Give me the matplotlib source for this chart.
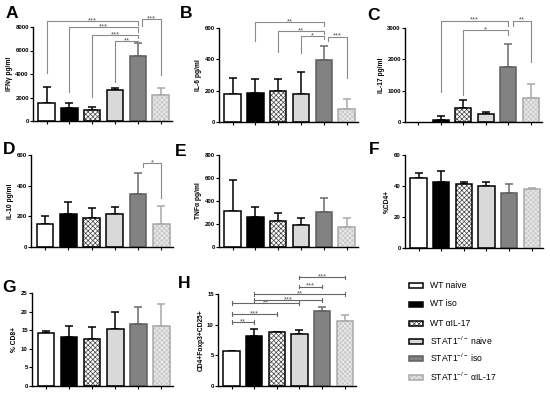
import matplotlib
matplotlib.use("Agg")
import matplotlib.pyplot as plt
from matplotlib.patches import Rectangle

plt.rcParams["font.family"] = ["Liberation Sans", "DejaVu Sans"]
plt.rcParams["mathtext.fontset"] = "custom"
plt.rcParams["mathtext.rm"] = "Liberation Sans"
plt.rcParams["mathtext.it"] = "Liberation Sans:italic"
plt.rcParams["hatch.linewidth"] = 0.5

groups = ["WT naive", "WT iso", "WT αIL-17",
          r"STAT1$^{\mathrm{-/-}}$ naive", r"STAT1$^{\mathrm{-/-}}$ iso",
          r"STAT1$^{\mathrm{-/-}}$ αIL-17"]

ifng_mean = [1500, 1100, 900, 2650, 5550, 2250]
ifng_err = [1400, 400, 250, 200, 1050, 600]
il6_mean = [176, 183, 195, 180, 397, 83]
il6_err = [107, 89, 77, 140, 86, 67]
il17_mean = [0, 70, 450, 250, 1760, 780]
il17_err = [0, 120, 260, 70, 720, 420]
il10_mean = [150, 215, 187, 212, 348, 152]
il10_err = [55, 80, 66, 48, 135, 118]
tnfa_mean = [312, 260, 225, 195, 302, 178]
tnfa_err = [271, 90, 70, 55, 123, 77]
cd4_mean = [45, 42.5, 41.5, 39.7, 35.8, 37.8]
cd4_err = [3.5, 7.3, 1.0, 2.8, 5.2, 0.7]
cd8_mean = [14.3, 13.1, 12.7, 15.4, 16.6, 16.0]
cd8_err = [0.6, 2.9, 3.2, 4.6, 4.6, 6.1]
treg_mean = [5.7, 8.1, 8.75, 8.5, 12.2, 10.6]
treg_err = [0.05, 1.2, 0.1, 0.7, 0.65, 1.0]

# (left bar, right bar, level, left leg bottom, right leg bottom, label)
ifng_sig = [(0, 4, 8540, 4100, 8200, "***"), (1, 4, 7980, 2500, 7600, "***"),
            (2, 4, 7320, 2060, 7050, "***"), (3, 4, 6830, 3300, 6650, "**"),
            (4.2, 5, 8680, 8100, 3900, "***")]
il6_sig = [(1, 4, 636, 514, 610, "**"), (2, 4, 583, 450, 560, "**"),
           (3, 4, 549, 440, 530, "*"), (4.2, 5, 545, 520, 279, "***")]
il17_sig = [(1, 4, 3236, 964, 3050, "***"), (2, 4, 2925, 860, 2780, "*"),
            (4.2, 5, 3236, 3050, 1930, "**")]
il10_sig = [(4.2, 5, 546, 520, 318, "*")]
# H uses capped lines: (left bar, right bar, level, label)
treg_sig = [(0, 1, 10.4, "**"), (0, 2, 11.7, "***"), (0, 3, 13.5, "**"),
            (1, 4, 14.0, "***"), (1, 5, 15.0, "**"), (3, 4, 16.2, "***"),
            (3, 5, 17.7, "***")]

# face, edge, hatch, hatch colour, error colour
styles = [
    ("white", "black", None, None, "black"),
    ("black", "black", None, None, "black"),
    ("white", "black", "xxxxxxx", "#444444", "black"),
    ("#d9d9d9", "black", None, None, "black"),
    ("#828282", "#5e5e5e", None, None, "#6a6a6a"),
    ("#cbcbcb", "#a8a8a8", "xxxxxxx", "#eeeeee", "#a8a8a8"),
]

W, H = 550, 393


def rect(left, right, top, bottom):
    return [left / W, (H - bottom) / H, (right - left) / W, (bottom - top) / H]


def draw_bars(ax, mean, err, ylim, yticks, ylabel):
    x = list(range(len(mean)))
    for i, (m, e) in enumerate(zip(mean, err)):
        face, edge, hatch, hcol, ecol = styles[i]
        if m > 0:
            if hatch:
                ax.bar(i, m, 0.72, color=face, edgecolor=hcol, hatch=hatch,
                       linewidth=0, zorder=2)
                ax.bar(i, m, 0.72, fill=False, edgecolor=edge, linewidth=1.1, zorder=3)
            else:
                ax.bar(i, m, 0.72, color=face, edgecolor=edge, linewidth=1.1, zorder=2)
        if e > 0:
            ax.errorbar(i, m, yerr=[[0], [e]], color=ecol, capsize=2.6,
                        elinewidth=1.1, capthick=1.1, zorder=1)
    ax.set_xlim(-0.6, 5.5)
    ax.set_ylim(*ylim)
    ax.set_xticks(x)
    ax.set_xticklabels([])
    ax.set_yticks(yticks)
    ax.set_yticklabels([str(t) for t in yticks], fontsize=4.3, fontweight="bold")
    ax.set_ylabel(ylabel, fontsize=4.8, fontweight="bold", labelpad=2)
    for side in ("top", "right"):
        ax.spines[side].set_visible(False)
    for side in ("left", "bottom"):
        ax.spines[side].set_linewidth(1.0)
    ax.tick_params(length=2, width=0.8, pad=1)


def star(ax, x, y, label, dy):
    ax.annotate(label, (x, y), xytext=(0, dy), textcoords="offset points",
                ha="center", va="baseline", fontsize=5.5, color="#555555",
                annotation_clip=False)


def draw_brackets(ax, sig):
    for a, b, y, la, lb, label in sig:
        ax.plot([a, a, b, b], [la, y, y, lb], color="#8a8a8a", lw=0.8,
                clip_on=False, zorder=4)
        star(ax, (a + b) / 2, y, label, -0.9)


def draw_capped(ax, sig):
    span = ax.get_ylim()[1] * 0.02
    for a, b, y, label in sig:
        ax.plot([a, b], [y, y], color="#666666", lw=0.8, clip_on=False, zorder=4)
        for xx in (a, b):
            ax.plot([xx, xx], [y - span, y + span], color="#666666", lw=0.8,
                    clip_on=False, zorder=4)
        star(ax, (a + b) / 2, y, label, -0.7)


fig = plt.figure(figsize=(5.5, 3.93), dpi=100)

ax_a = fig.add_axes(rect(33, 172, 27, 121))
draw_bars(ax_a, ifng_mean, ifng_err, (0, 8000), [0, 2000, 4000, 6000, 8000],
          "IFNγ pg/ml")
draw_brackets(ax_a, ifng_sig)

ax_b = fig.add_axes(rect(219, 358, 28, 122))
draw_bars(ax_b, il6_mean, il6_err, (0, 600), [0, 200, 400, 600], "IL-6 pg/ml")
draw_brackets(ax_b, il6_sig)

ax_c = fig.add_axes(rect(405, 542, 28, 122))
draw_bars(ax_c, il17_mean, il17_err, (0, 3000), [0, 1000, 2000, 3000], "IL-17 pg/ml")
draw_brackets(ax_c, il17_sig)

ax_d = fig.add_axes(rect(31, 173, 155, 247))
draw_bars(ax_d, il10_mean, il10_err, (0, 600), [0, 200, 400, 600], "IL-10 pg/ml")
draw_brackets(ax_d, il10_sig)

ax_e = fig.add_axes(rect(219, 358, 155, 247))
draw_bars(ax_e, tnfa_mean, tnfa_err, (0, 800), [0, 200, 400, 600, 800],
          "TNFα pg/ml")

ax_f = fig.add_axes(rect(405, 543, 155, 248))
draw_bars(ax_f, cd4_mean, cd4_err, (0, 60), [0, 20, 40, 60], "%CD4+")

ax_g = fig.add_axes(rect(32, 173, 293, 386))
draw_bars(ax_g, cd8_mean, cd8_err, (0, 25), [0, 5, 10, 15, 20, 25], "% CD8+")

ax_h = fig.add_axes(rect(218, 356, 294, 386))
draw_bars(ax_h, treg_mean, treg_err, (0, 15), [0, 5, 10, 15], "CD4+Foxp3+CD25+")
draw_capped(ax_h, treg_sig)

# panel letters
for letter, px, py in [("A", 12, 13), ("B", 186, 13), ("C", 373, 15),
                       ("D", 9, 150), ("E", 181, 152), ("F", 374, 149),
                       ("G", 9, 287), ("H", 184, 284)]:
    fig.text(px / W, 1 - py / H, letter, fontsize=12.5, fontweight="bold",
             ha="center", va="center")

# legend
leg = fig.add_axes([0, 0, 1, 1], zorder=-1)
leg.set_xlim(0, W)
leg.set_ylim(H, 0)
leg.axis("off")
for i, (name, yy) in enumerate(zip(groups, [285, 304, 323, 341, 358, 377])):
    face, edge, hatch, hcol, ecol = styles[i]
    if hatch:
        leg.add_patch(Rectangle((409, yy - 2.5), 14, 5, facecolor=face,
                                edgecolor=hcol, hatch=hatch, linewidth=0))
        leg.add_patch(Rectangle((409, yy - 2.5), 14, 5, fill=False,
                                edgecolor=edge, linewidth=1.1))
    else:
        leg.add_patch(Rectangle((409, yy - 2.5), 14, 5, facecolor=face,
                                edgecolor=edge, linewidth=1.1))
    leg.text(430, yy, name, fontsize=6.2, va="center", ha="left")

fig.savefig("out.png", dpi=100)
